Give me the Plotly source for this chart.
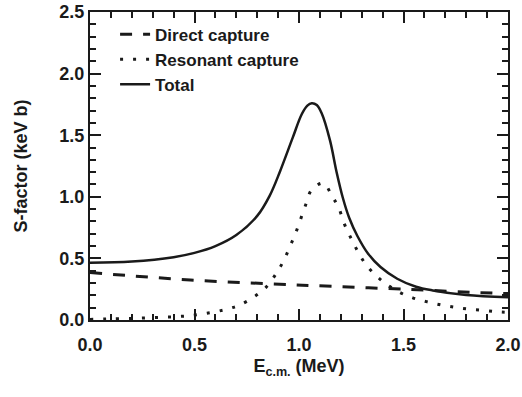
import plotly.graph_objects as go

# Total S-factor
total_E = [0.0, 0.2, 0.4, 0.5, 0.6, 0.7, 0.8, 0.86, 0.91, 0.97, 1.013, 1.04, 1.061, 1.085,
           1.108, 1.148, 1.18, 1.21, 1.24, 1.28, 1.33, 1.39, 1.47, 1.56, 1.64, 1.80, 2.0]
total_S = [0.465, 0.475, 0.51, 0.545, 0.60, 0.69, 0.845, 1.01, 1.21, 1.48, 1.67, 1.74, 1.76, 1.745,
           1.68, 1.46, 1.20, 0.99, 0.83, 0.68, 0.54, 0.43, 0.335, 0.27, 0.24, 0.203, 0.184]

# Direct capture
direct_E = [0.0, 0.48, 0.96, 1.07, 1.5, 1.87, 2.0]
direct_S = [0.385, 0.325, 0.287, 0.279, 0.25, 0.222, 0.215]

# Resonant capture
res_E = [0.0, 0.08, 0.207, 0.343, 0.474, 0.603, 0.67, 0.713, 0.778, 0.842, 0.894, 0.929, 0.96, 0.985,
         1.033, 1.06, 1.116, 1.16, 1.19, 1.217, 1.247, 1.28, 1.32, 1.375, 1.415, 1.478, 1.544,
         1.61, 1.68, 1.746, 1.81, 1.879, 1.945, 2.0]
res_S = [0.005, 0.008, 0.013, 0.022, 0.035, 0.068, 0.095, 0.12, 0.18, 0.265, 0.385, 0.49, 0.61, 0.71,
         0.94, 1.055, 1.11, 1.0, 0.91, 0.78, 0.67, 0.56, 0.45, 0.35, 0.295, 0.227, 0.18,
         0.149, 0.122, 0.103, 0.089, 0.079, 0.068, 0.062]

x_ticks = [0.0, 0.5, 1.0, 1.5, 2.0]
y_ticks = [0.0, 0.5, 1.0, 1.5, 2.0, 2.5]

FONT = "Liberation Sans, Arial, sans-serif"
INK = "#1a1a1a"

fig = go.Figure()
fig.add_trace(go.Scatter(x=direct_E, y=direct_S, mode="lines", name="Direct capture",
                         line=dict(color=INK, width=3, dash="12px,11px", shape="spline")))
fig.add_trace(go.Scatter(x=res_E, y=res_S, mode="lines", name="Resonant capture",
                         line=dict(color=INK, width=3, dash="3px,10px", shape="spline")))
fig.add_trace(go.Scatter(x=total_E, y=total_S, mode="lines", name="Total",
                         line=dict(color=INK, width=2.5, shape="spline")))

axis_common = dict(
    showline=True, linecolor=INK, linewidth=2, mirror="ticks",
    ticks="inside", ticklen=11, tickwidth=2, tickcolor=INK,
    showgrid=False, zeroline=False, automargin=False,
    tickfont=dict(family=FONT, size=18, color=INK, weight="bold"),
)

fig.update_layout(
    width=522, height=397,
    margin=dict(l=90, r=14, t=12, b=77),
    plot_bgcolor="white", paper_bgcolor="white",
    showlegend=True,
    legend=dict(x=0.06, y=0.985, xanchor="left", yanchor="top",
                bgcolor="rgba(0,0,0,0)", tracegroupgap=0,
                font=dict(family=FONT, size=17, color=INK, weight="bold")),
    xaxis=dict(range=[0, 2.0], tickvals=x_ticks, ticktext=[f"{v:.1f}" for v in x_ticks],
               ticklabelstandoff=7,
               minor=dict(ticks="inside", dtick=0.1, ticklen=6, tickwidth=1.5, tickcolor=INK),
               title=dict(text="E<sub>c.m.</sub> (MeV)", standoff=6,
                          font=dict(family=FONT, size=18, color=INK, weight="bold")),
               **axis_common),
    yaxis=dict(range=[0, 2.5], tickvals=y_ticks, ticktext=[f"{v:.1f}" for v in y_ticks],
               minor=dict(ticks="inside", dtick=0.1, ticklen=6, tickwidth=1.5, tickcolor=INK),
               title=dict(text="S-factor (keV b)", standoff=27,
                          font=dict(family=FONT, size=18, color=INK, weight="bold")),
               **axis_common),
)

# remove the default page margin so the 522x397 figure fills the window exactly
fig.write_html("out.html",
               config={"displayModeBar": False},
               post_script="document.body.style.margin='0';document.body.style.overflow='hidden';")
